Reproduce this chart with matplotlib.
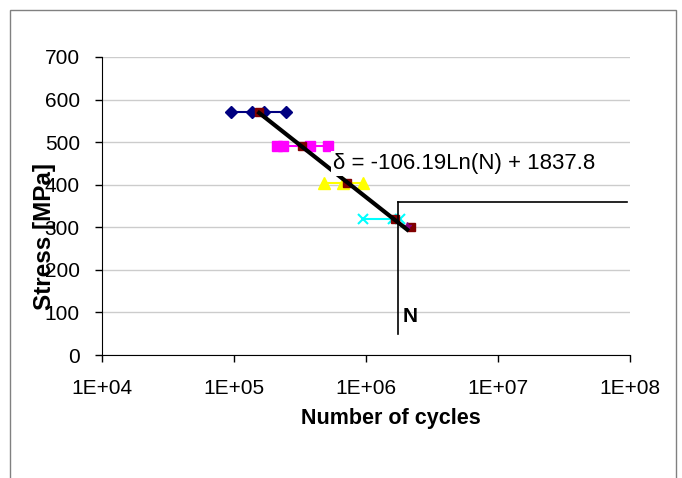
import numpy as np
import matplotlib
matplotlib.use("Agg")
import matplotlib.pyplot as plt
from matplotlib.patches import Rectangle

plt.rcParams['font.family'] = ['Liberation Sans', 'DejaVu Sans']

# stress levels [MPa] and cycles to failure for each test series
n_570 = [95000, 137000, 168000, 248000]
s_570 = [570, 570, 570, 570]
n_490 = [212000, 235000, 377000, 515000]
s_490 = [490, 490, 490, 490]
n_405 = [480000, 670000, 950000]
s_405 = [405, 405, 405]
n_320 = [950000, 1600000, 1810000]
s_320 = [320, 320, 320]

# mean values used for the fit
n_mean = [155000, 330000, 720000, 1650000, 2200000]
s_mean = [570, 490, 405, 320, 300]
n_star = [2050000]
s_star = [302]

# fitted curve  delta = a*ln(N) + b
a_fit = -106.19
b_fit = 1837.8
n_fit_range = [155000, 2050000]

# endurance box
n_lim = 1750000
s_lim = 360
n_lim_end = 9.5e7
s_lim_low = 50

x_ticks = [1e4, 1e5, 1e6, 1e7, 1e8]
x_labels = ['1E+04', '1E+05', '1E+06', '1E+07', '1E+08']
y_ticks = [0, 100, 200, 300, 400, 500, 600, 700]

fig = plt.figure(figsize=(6.82, 4.78), dpi=100)
fig.patches.append(Rectangle((10 / 682, -0.1), 666 / 682, 1.1 - 10 / 478,
                             transform=fig.transFigure, fill=False,
                             edgecolor='#808080', lw=1))
ax = fig.add_axes([0.1496, 0.2573, 0.7742, 0.6235])

ax.plot(n_570, s_570, color='#000080', marker='D', ms=6, lw=1.5, zorder=3)
ax.plot(n_490, s_490, color='#FF00FF', marker='s', ms=7, lw=1.5, zorder=3)
ax.plot(n_405, s_405, color='#FFFF00', marker='^', ms=8, lw=1.5, zorder=3)
ax.plot(n_320, s_320, color='#00FFFF', marker='x', ms=7, mew=1.5, lw=1.5, zorder=3)
ax.plot(n_mean, s_mean, ls='none', color='#800000', marker='s', ms=6, zorder=4)
ax.plot(n_star, s_star, ls='none', color='#800080', marker='*', ms=6, zorder=4)

nf = np.logspace(np.log10(n_fit_range[0]), np.log10(n_fit_range[1]), 50)
ax.plot(nf, a_fit * np.log(nf) + b_fit, color='black', lw=3, zorder=5)

ax.plot([n_lim, n_lim], [s_lim_low, s_lim], color='black', lw=1.2, zorder=5)
ax.plot([n_lim, n_lim_end], [s_lim, s_lim], color='black', lw=1.2, zorder=5)
ax.text(1.9e6, 90, 'N', fontsize=15, fontweight='bold', ha='left', va='center')

ax.text(5.6e5, 450, 'δ = -106.19Ln(N) + 1837.8', fontsize=16, ha='left',
        va='center', zorder=6,
        bbox=dict(facecolor='white', edgecolor='none', pad=1.5))

ax.set_xscale('log')
ax.set_xlim(1e4, 1e8)
ax.set_ylim(0, 700)
ax.set_xticks(x_ticks)
ax.set_xticklabels(x_labels)
ax.xaxis.set_minor_locator(matplotlib.ticker.NullLocator())
ax.set_yticks(y_ticks)
ax.tick_params(axis='both', labelsize=15, length=5, width=1, direction='out')
ax.tick_params(axis='x', pad=12)
ax.tick_params(axis='y', pad=11)

ax.grid(axis='y', color='#cccccc', lw=1)
ax.set_axisbelow(True)
ax.spines['top'].set_visible(False)
ax.spines['right'].set_visible(False)

ax.set_xlabel('Number of cycles', fontsize=15.5, fontweight='bold')
ax.xaxis.set_label_coords(0.547, -0.178)
ax.set_ylabel('Stress [MPa]', fontsize=17.5, fontweight='bold')
ax.yaxis.set_label_coords(-0.088, 0.396)

fig.savefig('out.png', dpi=100)
